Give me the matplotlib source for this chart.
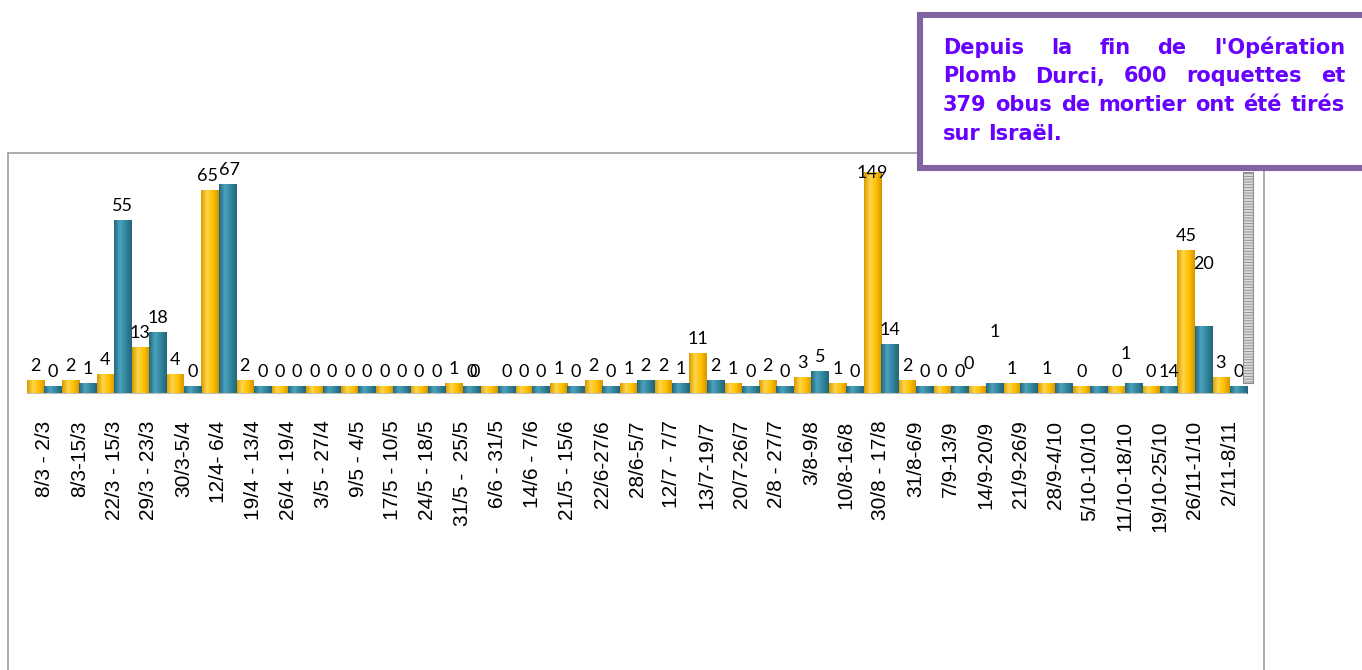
import matplotlib
matplotlib.use('Agg')
import matplotlib.pyplot as plt
from matplotlib.colors import LinearSegmentedColormap
from matplotlib.patches import Rectangle
from matplotlib.lines import Line2D
import numpy as np

W, H = 1362, 670

# weekly periods as written on the original chart
periods = ['8/3 - 2/3', '8/3-15/3', '22/3 - 15/3', '29/3 - 23/3', '30/3-5/4',
           '12/4- 6/4', '19/4 - 13/4', '26/4 - 19/4', '3/5 - 27/4', '9/5 - 4/5',
           '17/5 - 10/5', '24/5 - 18/5', '31/5 -  25/5', '6/6 - 31/5', '14/6 - 7/6',
           '21/5 - 15/6', '22/6-27/6', '28/6-5/7', '12/7 - 7/7', '13/7-19/7',
           '20/7-26/7', '2/8 - 27/7', '3/8-9/8', '10/8-16/8', '30/8 - 17/8',
           '31/8-6/9', '7/9-13/9', '14/9-20/9', '21/9-26/9', '28/9-4/10',
           '5/10-10/10', '11/10-18/10', '19/10-25/10', '26/11-1/10', '2/11-8/11']
rockets = [2, 2, 4, 13, 4, 65, 2, 0, 0, 0, 0, 0, 1, 0, 0, 1, 2, 1, 2, 11,
           1, 2, 3, 1, 149, 2, 0, 0, 1, 1, 0, 0, 0, 45, 3]
mortars = [0, 1, 55, 18, 0, 67, 0, 0, 0, 0, 0, 0, 0, 0, 0, 0, 0, 2, 1, 2,
           0, 0, 5, 0, 14, 0, 0, 1, 1, 1, 0, 1, 0, 20, 0]

# labels that were moved / edited by hand in the original
label_text = {('m', 28): '', ('m', 29): '', ('m', 30): '', ('m', 32): '14'}
label_shift = {('r', 13): (-14, 0), ('r', 27): (-8, 8), ('m', 27): (0, 37),
               ('m', 31): (-8, 15), ('m', 33): (0, 48), ('r', 5): (-2, 0), ('m', 5): (2, 0)}

note = ["Depuis la fin de l'Opération",
        "Plomb Durci, 600 roquettes et",
        "379 obus de mortier ont été tirés",
        "sur Israël."]

YELLOW = '#FFC000'
TEAL = '#31859C'
FLOOR = 2.6
YTOP = 71


def box(x0, y0, x1, y1):
    #pixel box (top-left origin) -> figure fraction
    return [x0 / W, 1 - y1 / H, (x1 - x0) / W, (y1 - y0) / H]


plt.rcParams['hatch.linewidth'] = 0.6
fig = plt.figure(figsize=(W / 100, H / 100), dpi=100)
fig.patch.set_facecolor('white')

#chart area border (bottom runs off the picture)
for xs, ys in [([8, 8], [153, 700]), ([8, 1264], [153, 153]), ([1264, 1264], [153, 700])]:
    fig.add_artist(Line2D([x / W for x in xs], [1 - y / H for y in ys],
                          color='#A6A6A6', lw=1.3, zorder=1))

ax = fig.add_axes(box(27, 172, 1247, 394))
ax.set_xlim(-0.5, len(periods) - 0.5)
ax.set_ylim(-FLOOR, YTOP)
for s in ax.spines.values():
    s.set_visible(False)
ax.set_yticks([])
ax.set_xticks(np.arange(len(periods)))
ax.set_xticklabels(periods, rotation=90, ha='center', va='top',
                   fontsize=15, family='Liberation Sans')
ax.tick_params(axis='x', length=0, pad=19)

x = np.arange(len(periods))
shade = {YELLOW: LinearSegmentedColormap.from_list('y', ['#D99A00', '#FFD54A', '#FFC000', '#D69600']),
         TEAL: LinearSegmentedColormap.from_list('t', ['#23687C', '#4BA3BD', '#31859C', '#22657A'])}
grad = np.linspace(0, 1, 64).reshape(1, -1)

for key, vals, off, col in [('r', rockets, -0.25, YELLOW), ('m', mortars, 0.25, TEAL)]:
    vals = np.array(vals)
    bars = ax.bar(x + off, vals + FLOOR, bottom=-FLOOR, width=0.5, color=col,
                  edgecolor='none', zorder=2)
    for b in bars:
        #cylinder-like shading inside each bar, cut at the top of the plot
        top = min(b.get_y() + b.get_height(), YTOP)
        im = ax.imshow(grad, cmap=shade[col], aspect='auto', zorder=3,
                       extent=[b.get_x(), b.get_x() + b.get_width(), b.get_y(), top])
        im.set_clip_path(b)
    for i, v in enumerate(vals):
        txt = label_text.get((key, i), str(v))
        if txt == '':
            continue
        dx, dy = label_shift.get((key, i), (0, 0))
        if v > YTOP:
            y, base = YTOP, -1
        else:
            y, base = v, 14
        ax.annotate(txt, (i + off, y), xytext=(dx, base + dy), textcoords='offset pixels',
                    ha='center', va='center', fontsize=13, family='Lato',
                    color='black', zorder=5, annotation_clip=False)

ax.axhline(-FLOOR, color='#BDBDBD', lw=2.2, zorder=4)
ax.set_xlim(-0.5, len(periods) - 0.5)
ax.set_ylim(-FLOOR, YTOP)

#hatched side wall on the right of the plot
wall = Rectangle((1243 / W, 1 - 383 / H), 10 / W, 211 / H, transform=fig.transFigure,
                 facecolor='#DADADA', edgecolor='#8C8C8C', hatch='------', lw=0.8, zorder=2)
fig.add_artist(wall)

#text box
frame = Rectangle((920 / W, 1 - 168 / H), 460 / W, 153 / H, transform=fig.transFigure,
                  facecolor='white', edgecolor='#8064A2', lw=4.4, zorder=6, clip_on=False)
fig.add_artist(frame)

r = fig.canvas.get_renderer()
style = dict(fontsize=15, fontweight='bold', family='DejaVu Sans', color='#6600FF', zorder=7)


def width(s):
    t = fig.text(0, 0, s, **style)
    w = t.get_window_extent(r).width
    t.remove()
    return w


space = width('a a') - width('aa')
x0, x1 = 943, 1345
for k, line in enumerate(note):
    words = line.split()
    ws = [width(w) for w in words]
    if k < len(note) - 1 and len(words) > 1:
        gap = (x1 - x0 - sum(ws)) / (len(words) - 1)
    else:
        gap = space
    xp = x0
    yb = 54 + k * 28.5
    for w, wd in zip(words, ws):
        fig.text(xp / W, 1 - yb / H, w, va='baseline', ha='left', **style)
        xp += wd + gap

fig.savefig('out.png', dpi=100)
